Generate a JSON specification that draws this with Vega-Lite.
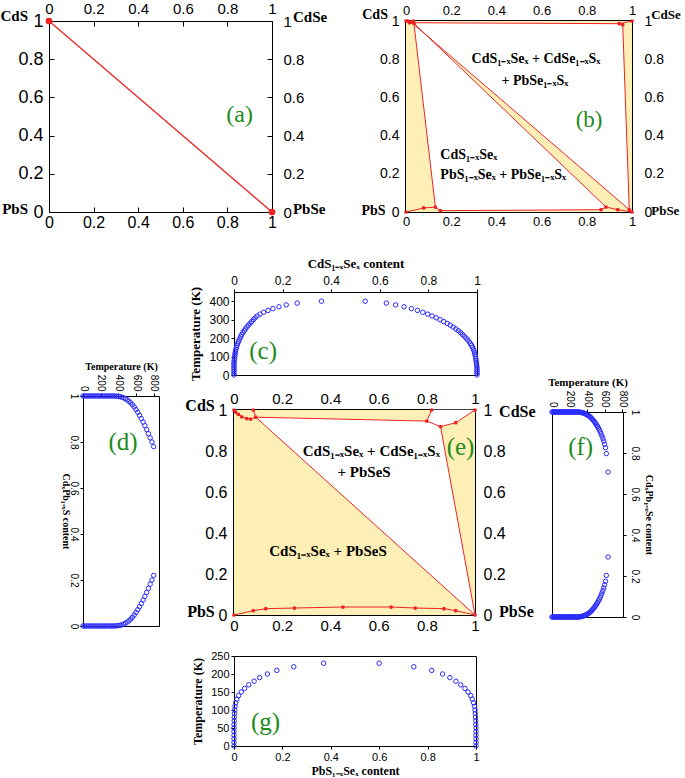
{
"$schema":"https://vega.github.io/schema/vega-lite/v6.json",
"padding":0,
"background":"white",
"data":{"values":[]},
"spacing":25,
"config":{
 "view":{"stroke":null},
 "axis":{"grid":false,"domain":false,"labelFont":"Liberation Sans","labelColor":"black","tickColor":"black","titleFont":"Liberation Serif","titleFontWeight":"bold","titleColor":"black","labelFlush":false,"labelOverlap":false,"labelBound":false}
},
"datasets":{
 "cdat":[{"T":0,"x":0},{"T":10,"x":0},{"T":20,"x":0},{"T":30,"x":0},{"T":40,"x":0},{"T":50,"x":0},{"T":60,"x":0},{"T":70,"x":0},{"T":80,"x":0.001},{"T":90,"x":0.002},{"T":100,"x":0.003},{"T":110,"x":0.004},{"T":120,"x":0.005},{"T":130,"x":0.006},{"T":140,"x":0.008},{"T":150,"x":0.01},{"T":160,"x":0.012},{"T":170,"x":0.015},{"T":180,"x":0.018},{"T":190,"x":0.021},{"T":200,"x":0.025},{"T":210,"x":0.028},{"T":220,"x":0.032},{"T":230,"x":0.037},{"T":240,"x":0.042},{"T":250,"x":0.047},{"T":260,"x":0.053},{"T":270,"x":0.059},{"T":280,"x":0.066},{"T":290,"x":0.073},{"T":300,"x":0.08},{"T":310,"x":0.087},{"T":320,"x":0.095},{"T":330,"x":0.107},{"T":340,"x":0.122},{"T":350,"x":0.14},{"T":360,"x":0.16},{"T":370,"x":0.185},{"T":380,"x":0.215},{"T":390,"x":0.26},{"T":400,"x":0.36},
  {"T":0,"x":1},{"T":10,"x":1},{"T":20,"x":1},{"T":30,"x":1},{"T":40,"x":1},{"T":50,"x":0.999},{"T":60,"x":0.998},{"T":70,"x":0.997},{"T":80,"x":0.996},{"T":90,"x":0.995},{"T":100,"x":0.994},{"T":110,"x":0.992},{"T":120,"x":0.99},{"T":130,"x":0.988},{"T":140,"x":0.985},{"T":150,"x":0.982},{"T":160,"x":0.978},{"T":170,"x":0.973},{"T":180,"x":0.968},{"T":190,"x":0.962},{"T":200,"x":0.955},{"T":210,"x":0.948},{"T":220,"x":0.94},{"T":230,"x":0.932},{"T":240,"x":0.923},{"T":250,"x":0.913},{"T":260,"x":0.902},{"T":270,"x":0.89},{"T":280,"x":0.877},{"T":290,"x":0.863},{"T":300,"x":0.848},{"T":310,"x":0.832},{"T":320,"x":0.815},{"T":330,"x":0.797},{"T":340,"x":0.777},{"T":350,"x":0.755},{"T":360,"x":0.73},{"T":370,"x":0.7},{"T":380,"x":0.665},{"T":390,"x":0.627},{"T":400,"x":0.54}],
 "gdat":[{"T":0,"x":0},{"T":10,"x":0},{"T":20,"x":0},{"T":30,"x":0},{"T":40,"x":0},{"T":50,"x":0},{"T":60,"x":0},{"T":70,"x":0.001},{"T":80,"x":0.001},{"T":90,"x":0.002},{"T":100,"x":0.003},{"T":110,"x":0.004},{"T":120,"x":0.007},{"T":130,"x":0.012},{"T":140,"x":0.019},{"T":150,"x":0.03},{"T":160,"x":0.044},{"T":170,"x":0.061},{"T":180,"x":0.083},{"T":190,"x":0.106},{"T":200,"x":0.138},{"T":210,"x":0.177},{"T":220,"x":0.247},{"T":230,"x":0.37},
  {"T":0,"x":1},{"T":10,"x":1},{"T":20,"x":1},{"T":30,"x":1},{"T":40,"x":1},{"T":50,"x":1},{"T":60,"x":0.999},{"T":70,"x":0.999},{"T":80,"x":0.998},{"T":90,"x":0.997},{"T":100,"x":0.996},{"T":110,"x":0.994},{"T":120,"x":0.99},{"T":130,"x":0.985},{"T":140,"x":0.978},{"T":150,"x":0.967},{"T":160,"x":0.954},{"T":170,"x":0.937},{"T":180,"x":0.917},{"T":190,"x":0.892},{"T":200,"x":0.862},{"T":210,"x":0.817},{"T":220,"x":0.743},{"T":230,"x":0.6}],
 "ddat":[{"T":0,"c":1},{"T":20,"c":1},{"T":40,"c":1},{"T":60,"c":1},{"T":80,"c":1},{"T":100,"c":1},{"T":120,"c":1},{"T":140,"c":1},{"T":160,"c":1},{"T":180,"c":1},{"T":200,"c":1},{"T":220,"c":1},{"T":240,"c":1},{"T":260,"c":1},{"T":280,"c":1},{"T":300,"c":1},{"T":320,"c":1},{"T":340,"c":1},{"T":360,"c":1},{"T":380,"c":0.999},{"T":400,"c":0.998},{"T":420,"c":0.997},{"T":440,"c":0.995},{"T":460,"c":0.992},{"T":480,"c":0.988},{"T":500,"c":0.983},{"T":520,"c":0.977},{"T":540,"c":0.97},{"T":560,"c":0.962},{"T":580,"c":0.952},{"T":600,"c":0.941},{"T":620,"c":0.929},{"T":640,"c":0.916},{"T":660,"c":0.902},{"T":680,"c":0.887},{"T":700,"c":0.871},{"T":720,"c":0.854},{"T":740,"c":0.836},{"T":760,"c":0.818},{"T":780,"c":0.8},{"T":800,"c":0.78},
  {"T":0,"c":0},{"T":20,"c":0},{"T":40,"c":0},{"T":60,"c":0},{"T":80,"c":0},{"T":100,"c":0},{"T":120,"c":0},{"T":140,"c":0},{"T":160,"c":0},{"T":180,"c":0},{"T":200,"c":0},{"T":220,"c":0},{"T":240,"c":0},{"T":260,"c":0},{"T":280,"c":0},{"T":300,"c":0},{"T":320,"c":0},{"T":340,"c":0},{"T":360,"c":0},{"T":380,"c":0.001},{"T":400,"c":0.002},{"T":420,"c":0.003},{"T":440,"c":0.005},{"T":460,"c":0.008},{"T":480,"c":0.012},{"T":500,"c":0.017},{"T":520,"c":0.023},{"T":540,"c":0.03},{"T":560,"c":0.038},{"T":580,"c":0.048},{"T":600,"c":0.059},{"T":620,"c":0.071},{"T":640,"c":0.084},{"T":660,"c":0.098},{"T":680,"c":0.113},{"T":700,"c":0.129},{"T":720,"c":0.146},{"T":740,"c":0.164},{"T":760,"c":0.182},{"T":780,"c":0.2},{"T":800,"c":0.22}],
 "fdat":[{"T":0,"c":1},{"T":10,"c":1},{"T":20,"c":1},{"T":30,"c":1},{"T":40,"c":1},{"T":50,"c":1},{"T":60,"c":1},{"T":70,"c":1},{"T":80,"c":1},{"T":90,"c":1},{"T":100,"c":1},{"T":110,"c":1},{"T":120,"c":1},{"T":130,"c":1},{"T":140,"c":1},{"T":150,"c":1},{"T":160,"c":1},{"T":170,"c":1},{"T":180,"c":1},{"T":190,"c":1},{"T":200,"c":1},{"T":210,"c":1},{"T":220,"c":1},{"T":230,"c":1},{"T":240,"c":1},{"T":250,"c":1},{"T":260,"c":1},{"T":270,"c":1},{"T":280,"c":1},{"T":290,"c":1},{"T":300,"c":1},{"T":310,"c":0.999},{"T":320,"c":0.999},{"T":330,"c":0.998},{"T":340,"c":0.997},{"T":350,"c":0.996},{"T":360,"c":0.995},{"T":370,"c":0.993},{"T":380,"c":0.991},{"T":390,"c":0.989},{"T":400,"c":0.987},{"T":410,"c":0.984},{"T":420,"c":0.981},{"T":430,"c":0.978},{"T":440,"c":0.974},{"T":450,"c":0.97},{"T":460,"c":0.965},{"T":470,"c":0.96},{"T":480,"c":0.955},{"T":490,"c":0.949},{"T":500,"c":0.943},{"T":510,"c":0.936},{"T":520,"c":0.929},{"T":530,"c":0.921},{"T":540,"c":0.913},{"T":550,"c":0.904},{"T":560,"c":0.894},{"T":570,"c":0.883},{"T":580,"c":0.871},{"T":590,"c":0.858},{"T":600,"c":0.843},{"T":610,"c":0.826},{"T":620,"c":0.797},{"T":640,"c":0.707},
  {"T":0,"c":0},{"T":10,"c":0},{"T":20,"c":0},{"T":30,"c":0},{"T":40,"c":0},{"T":50,"c":0},{"T":60,"c":0},{"T":70,"c":0},{"T":80,"c":0},{"T":90,"c":0},{"T":100,"c":0},{"T":110,"c":0},{"T":120,"c":0},{"T":130,"c":0},{"T":140,"c":0},{"T":150,"c":0},{"T":160,"c":0},{"T":170,"c":0},{"T":180,"c":0},{"T":190,"c":0},{"T":200,"c":0},{"T":210,"c":0},{"T":220,"c":0},{"T":230,"c":0},{"T":240,"c":0},{"T":250,"c":0},{"T":260,"c":0},{"T":270,"c":0},{"T":280,"c":0},{"T":290,"c":0},{"T":300,"c":0},{"T":310,"c":0.001},{"T":320,"c":0.001},{"T":330,"c":0.002},{"T":340,"c":0.003},{"T":350,"c":0.004},{"T":360,"c":0.005},{"T":370,"c":0.007},{"T":380,"c":0.009},{"T":390,"c":0.011},{"T":400,"c":0.013},{"T":410,"c":0.016},{"T":420,"c":0.019},{"T":430,"c":0.022},{"T":440,"c":0.026},{"T":450,"c":0.03},{"T":460,"c":0.035},{"T":470,"c":0.04},{"T":480,"c":0.045},{"T":490,"c":0.051},{"T":500,"c":0.057},{"T":510,"c":0.064},{"T":520,"c":0.071},{"T":530,"c":0.079},{"T":540,"c":0.087},{"T":550,"c":0.096},{"T":560,"c":0.106},{"T":570,"c":0.117},{"T":580,"c":0.129},{"T":590,"c":0.142},{"T":600,"c":0.157},{"T":610,"c":0.174},{"T":620,"c":0.203},{"T":640,"c":0.293}],
 "bPoly":[{"p":"W1","i":0,"x":0.022,"y":0.993},{"p":"W1","i":1,"x":0.944,"y":0.986},{"p":"W1","i":2,"x":0.959,"y":0.981},{"p":"W1","i":3,"x":0.988,"y":0.012},{"p":"W1","i":4,"x":1,"y":0},{"p":"W1","i":5,"x":0.022,"y":0.993},
  {"p":"W2","i":0,"x":0.035,"y":0.988},{"p":"W2","i":1,"x":0.885,"y":0.026},{"p":"W2","i":2,"x":0.863,"y":0.012},{"p":"W2","i":3,"x":0.152,"y":0.007},{"p":"W2","i":4,"x":0.13,"y":0.026},{"p":"W2","i":5,"x":0.035,"y":0.988}],
 "bLine":[{"l":"L1","i":0,"x":0.015,"y":0.991},{"l":"L1","i":1,"x":0.944,"y":0.986},{"l":"L1","i":2,"x":1,"y":1},
  {"l":"L2","i":0,"x":0.944,"y":0.986},{"l":"L2","i":1,"x":0.959,"y":0.981},{"l":"L2","i":2,"x":0.988,"y":0.012},{"l":"L2","i":3,"x":1,"y":0},
  {"l":"L3","i":0,"x":0.032,"y":1},{"l":"L3","i":1,"x":0.035,"y":0.988},{"l":"L3","i":2,"x":0.13,"y":0.026},
  {"l":"L4","i":0,"x":0,"y":0},{"l":"L4","i":1,"x":0.078,"y":0.021},{"l":"L4","i":2,"x":0.13,"y":0.026},{"l":"L4","i":3,"x":0.152,"y":0.007},{"l":"L4","i":4,"x":0.863,"y":0.012},{"l":"L4","i":5,"x":0.885,"y":0.026},{"l":"L4","i":6,"x":0.937,"y":0.012},{"l":"L4","i":7,"x":1,"y":0},
  {"l":"L5","i":0,"x":0.022,"y":0.995},{"l":"L5","i":1,"x":1,"y":0},
  {"l":"L6","i":0,"x":0.035,"y":0.988},{"l":"L6","i":1,"x":0.885,"y":0.026},
  {"l":"L7","i":0,"x":0,"y":1},{"l":"L7","i":1,"x":0.007,"y":1},{"l":"L7","i":2,"x":0.015,"y":0.991},{"l":"L7","i":3,"x":0.022,"y":0.995},{"l":"L7","i":4,"x":0.032,"y":1}],
 "bPts":[{"x":0,"y":1},{"x":0.007,"y":1},{"x":0.015,"y":0.991},{"x":0.022,"y":0.995},{"x":0.032,"y":1},{"x":0.035,"y":0.988},{"x":0.944,"y":0.986},{"x":0.959,"y":0.981},{"x":1,"y":1},{"x":0.988,"y":0.012},{"x":1,"y":0},{"x":0,"y":0},{"x":0.078,"y":0.021},{"x":0.13,"y":0.026},{"x":0.152,"y":0.007},{"x":0.863,"y":0.012},{"x":0.885,"y":0.026},{"x":0.937,"y":0.012}],
 "ePoly":[{"p":"W1","i":0,"x":0.09,"y":0.965},{"p":"W1","i":1,"x":0.8,"y":0.946},{"p":"W1","i":2,"x":0.857,"y":0.919},{"p":"W1","i":3,"x":1,"y":0},{"p":"W1","i":4,"x":0.09,"y":0.965},
  {"p":"W2","i":0,"x":0.82,"y":1},{"p":"W2","i":1,"x":1,"y":1},{"p":"W2","i":2,"x":0.92,"y":0.938},{"p":"W2","i":3,"x":0.857,"y":0.919},{"p":"W2","i":4,"x":0.8,"y":0.946},{"p":"W2","i":5,"x":0.82,"y":1}],
 "eLine":[{"l":"E1","i":0,"x":0,"y":1},{"l":"E1","i":1,"x":0.007,"y":0.99},{"l":"E1","i":2,"x":0.018,"y":0.979},{"l":"E1","i":3,"x":0.032,"y":0.967},{"l":"E1","i":4,"x":0.053,"y":0.958},{"l":"E1","i":5,"x":0.069,"y":0.956},{"l":"E1","i":6,"x":0.09,"y":0.965},
  {"l":"E2","i":0,"x":0.08,"y":1},{"l":"E2","i":1,"x":0.09,"y":0.965},
  {"l":"E3","i":0,"x":0.09,"y":0.965},{"l":"E3","i":1,"x":0.8,"y":0.946},{"l":"E3","i":2,"x":0.82,"y":1},
  {"l":"E4","i":0,"x":0.8,"y":0.946},{"l":"E4","i":1,"x":0.857,"y":0.919},{"l":"E4","i":2,"x":0.92,"y":0.938},{"l":"E4","i":3,"x":1,"y":1},
  {"l":"E5","i":0,"x":0.857,"y":0.919},{"l":"E5","i":1,"x":1,"y":0},
  {"l":"E6","i":0,"x":0.09,"y":0.965},{"l":"E6","i":1,"x":1,"y":0},
  {"l":"E7","i":0,"x":0,"y":0},{"l":"E7","i":1,"x":0.08,"y":0.021},{"l":"E7","i":2,"x":0.132,"y":0.031},{"l":"E7","i":3,"x":0.251,"y":0.034},{"l":"E7","i":4,"x":0.452,"y":0.039},{"l":"E7","i":5,"x":0.652,"y":0.039},{"l":"E7","i":6,"x":0.752,"y":0.034},{"l":"E7","i":7,"x":0.871,"y":0.031},{"l":"E7","i":8,"x":0.92,"y":0.021},{"l":"E7","i":9,"x":1,"y":0}],
 "ePts":[{"x":0,"y":1},{"x":0.007,"y":0.99},{"x":0.018,"y":0.979},{"x":0.032,"y":0.967},{"x":0.053,"y":0.958},{"x":0.069,"y":0.956},{"x":0.09,"y":0.965},{"x":0.08,"y":1},{"x":0.8,"y":0.946},{"x":0.82,"y":1},{"x":0.857,"y":0.919},{"x":0.92,"y":0.938},{"x":1,"y":1},{"x":1,"y":0},{"x":0,"y":0},{"x":0.08,"y":0.021},{"x":0.132,"y":0.031},{"x":0.251,"y":0.034},{"x":0.452,"y":0.039},{"x":0.652,"y":0.039},{"x":0.752,"y":0.034},{"x":0.871,"y":0.031},{"x":0.92,"y":0.021}]
},
"vconcat":[
 {"bounds":"flush","spacing":0,"hconcat":[
  {"width":46,"height":1,"mark":"point"},
  {"width":223,"height":191,"view":{"stroke":"black","strokeWidth":1},
   "layer":[
    {"data":{"values":[{"x":0,"y":1},{"x":1,"y":0}]},"mark":{"type":"line","color":"#ee2222","strokeWidth":1.3},
     "encoding":{"x":{"field":"x","type":"quantitative","scale":{"domain":[0,1],"nice":false},"axis":{"orient":"bottom","values":[0,0.2,0.4,0.6,0.8,1],"format":"~g","labelFontSize":16,"tickSize":-5,"labelPadding":7,"title":null}},
      "y":{"field":"y","type":"quantitative","scale":{"domain":[0,1],"nice":false},"axis":{"orient":"left","values":[0,0.2,0.4,0.6,0.8,1],"format":"~g","labelFontSize":18,"tickSize":-5,"labelPadding":11,"title":null}}}},
    {"data":{"values":[{"x":0,"y":1},{"x":1,"y":0}]},"mark":{"type":"point","filled":true,"color":"#ee2222","size":45,"opacity":1},
     "encoding":{"x":{"field":"x","type":"quantitative","scale":{"domain":[0,1],"nice":false},"axis":{"orient":"top","values":[0,0.2,0.4,0.6,0.8,1],"format":"~g","labelFontSize":15,"tickSize":-5,"labelPadding":10,"title":null}},
      "y":{"field":"y","type":"quantitative","scale":{"domain":[0,1],"nice":false},"axis":{"orient":"right","values":[0,0.2,0.4,0.6,0.8,1],"format":"~g","labelFontSize":15,"tickSize":-5,"labelPadding":16,"title":null}}}},
    {"data":{"values":[{"t":"CdS","x":-0.094,"y":1.026},{"t":"PbS","x":-0.094,"y":0.016}]},"mark":{"type":"text","align":"right","baseline":"middle","font":"Liberation Serif","fontWeight":"bold","fontSize":15},
     "encoding":{"x":{"field":"x","type":"quantitative","scale":{"domain":[0,1],"nice":false},"axis":null},"y":{"field":"y","type":"quantitative","scale":{"domain":[0,1],"nice":false},"axis":null},"text":{"field":"t"}}},
    {"data":{"values":[{"t":"CdSe","x":1.094,"y":1.02},{"t":"PbSe","x":1.094,"y":0.016}]},"mark":{"type":"text","align":"left","baseline":"middle","font":"Liberation Serif","fontWeight":"bold","fontSize":15},
     "encoding":{"x":{"field":"x","type":"quantitative","scale":{"domain":[0,1],"nice":false},"axis":null},"y":{"field":"y","type":"quantitative","scale":{"domain":[0,1],"nice":false},"axis":null},"text":{"field":"t"}}},
    {"data":{"values":[{"t":"(a)","x":0.855,"y":0.51}]},"mark":{"type":"text","align":"center","baseline":"middle","font":"Liberation Serif","fontSize":24,"color":"#1d8c1d"},
     "encoding":{"x":{"field":"x","type":"quantitative","scale":{"domain":[0,1],"nice":false},"axis":null},"y":{"field":"y","type":"quantitative","scale":{"domain":[0,1],"nice":false},"axis":null},"text":{"field":"t"}}}
   ],
   "resolve":{"axis":{"x":"independent","y":"independent"}}},
  {"width":134,"height":1,"mark":"point"},
  {"width":226,"height":191,"view":{"stroke":"black","strokeWidth":2},
   "layer":[
    {"data":{"values":[{"x":0,"x2":1,"y":0,"y2":1}]},"mark":{"type":"rect","color":"#fdefb5"},
     "encoding":{"x":{"field":"x","type":"quantitative","scale":{"domain":[0,1],"nice":false},"axis":{"orient":"bottom","values":[0,0.2,0.4,0.6,0.8,1],"format":"~g","labelFontSize":13,"tickSize":-5,"labelPadding":8,"title":null}},"x2":{"field":"x2"},
      "y":{"field":"y","type":"quantitative","scale":{"domain":[0,1],"nice":false},"axis":{"orient":"left","values":[0,0.2,0.4,0.6,0.8,1],"format":"~g","labelFontSize":14,"tickSize":-5,"labelPadding":12,"title":null}},"y2":{"field":"y2"}}},
    {"data":{"name":"bPoly"},"mark":{"type":"line","color":"white","fill":"white","strokeWidth":0.5},
     "encoding":{"x":{"field":"x","type":"quantitative","scale":{"domain":[0,1],"nice":false},"axis":{"orient":"top","values":[0,0.2,0.4,0.6,0.8,1],"format":"~g","labelFontSize":13,"tickSize":-5,"labelPadding":9,"title":null}},
      "y":{"field":"y","type":"quantitative","scale":{"domain":[0,1],"nice":false},"axis":{"orient":"right","values":[0,0.2,0.4,0.6,0.8,1],"format":"~g","labelFontSize":14,"tickSize":-5,"labelPadding":17,"title":null}},"detail":{"field":"p"},"order":{"field":"i"}}},
    {"data":{"name":"bLine"},"mark":{"type":"line","color":"#ee2222","strokeWidth":1},
     "encoding":{"x":{"field":"x","type":"quantitative","scale":{"domain":[0,1],"nice":false},"axis":null},"y":{"field":"y","type":"quantitative","scale":{"domain":[0,1],"nice":false},"axis":null},"detail":{"field":"l"},"order":{"field":"i"}}},
    {"data":{"name":"bPts"},"mark":{"type":"point","filled":true,"color":"#ee2222","size":14,"opacity":1},
     "encoding":{"x":{"field":"x","type":"quantitative","scale":{"domain":[0,1],"nice":false},"axis":null},"y":{"field":"y","type":"quantitative","scale":{"domain":[0,1],"nice":false},"axis":null}}},
    {"data":{"values":[{"t":"CdS","x":-0.08,"y":1.03},{"t":"PbS","x":-0.09,"y":0.005}]},"mark":{"type":"text","align":"right","baseline":"middle","font":"Liberation Serif","fontWeight":"bold","fontSize":14},
     "encoding":{"x":{"field":"x","type":"quantitative","scale":{"domain":[0,1],"nice":false},"axis":null},"y":{"field":"y","type":"quantitative","scale":{"domain":[0,1],"nice":false},"axis":null},"text":{"field":"t"}}},
    {"data":{"values":[{"t":"CdSe","x":1.085,"y":1.03},{"t":"PbSe","x":1.085,"y":0.005}]},"mark":{"type":"text","align":"left","baseline":"middle","font":"Liberation Serif","fontWeight":"bold","fontSize":13},
     "encoding":{"x":{"field":"x","type":"quantitative","scale":{"domain":[0,1],"nice":false},"axis":null},"y":{"field":"y","type":"quantitative","scale":{"domain":[0,1],"nice":false},"axis":null},"text":{"field":"t"}}},
    {"data":{"values":[{"t":"CdS₁₋ₓSeₓ + CdSe₁₋ₓSₓ","x":0.575,"y":0.8},{"t":"+ PbSe₁₋ₓSₓ","x":0.57,"y":0.687}]},"mark":{"type":"text","align":"center","baseline":"middle","font":"Liberation Serif","fontWeight":"bold","fontSize":14},
     "encoding":{"x":{"field":"x","type":"quantitative","scale":{"domain":[0,1],"nice":false},"axis":null},"y":{"field":"y","type":"quantitative","scale":{"domain":[0,1],"nice":false},"axis":null},"text":{"field":"t"}}},
    {"data":{"values":[{"t":"CdS₁₋ₓSeₓ","x":0.152,"y":0.3},{"t":"PbS₁₋ₓSeₓ + PbSe₁₋ₓSₓ","x":0.152,"y":0.195}]},"mark":{"type":"text","align":"left","baseline":"middle","font":"Liberation Serif","fontWeight":"bold","fontSize":14},
     "encoding":{"x":{"field":"x","type":"quantitative","scale":{"domain":[0,1],"nice":false},"axis":null},"y":{"field":"y","type":"quantitative","scale":{"domain":[0,1],"nice":false},"axis":null},"text":{"field":"t"}}},
    {"data":{"values":[{"t":"(b)","x":0.81,"y":0.48}]},"mark":{"type":"text","align":"center","baseline":"middle","font":"Liberation Serif","fontSize":23,"color":"#1d8c1d"},
     "encoding":{"x":{"field":"x","type":"quantitative","scale":{"domain":[0,1],"nice":false},"axis":null},"y":{"field":"y","type":"quantitative","scale":{"domain":[0,1],"nice":false},"axis":null},"text":{"field":"t"}}}
   ],
   "resolve":{"axis":{"x":"independent","y":"independent"}}}
 ]},
 {"spacing":0,"hconcat":[
  {"width":56,"height":1,"mark":"point"},
  {"bounds":"flush","spacing":0,"vconcat":[
   {"width":1,"height":104,"mark":"point"},
   {"width":76,"height":230,"view":{"stroke":"black","strokeWidth":1},
    "layer":[
     {"data":{"name":"ddat"},"mark":{"type":"point","shape":"circle","filled":false,"color":"#2b2bff","size":20,"strokeWidth":1,"opacity":1},
      "encoding":{"x":{"field":"T","type":"quantitative","scale":{"domain":[0,860],"nice":false},"axis":{"orient":"top","values":[0,200,400,600,800],"labelAngle":90,"labelFontSize":10,"tickSize":3,"labelPadding":2,"title":"Temperature (K)","titleFontSize":10,"titlePadding":3}},
       "y":{"field":"c","type":"quantitative","scale":{"domain":[0,1],"nice":false},"axis":{"orient":"left","values":[0,0.2,0.4,0.6,0.8,1],"format":"~g","labelAngle":90,"labelFontSize":10,"tickSize":3,"labelPadding":2,"title":"CdₓPb₁₋ₓS content","titleAngle":90,"titleFontSize":10,"titlePadding":8}}}},
     {"data":{"values":[{"t":"(d)","T":453,"c":0.8}]},"mark":{"type":"text","align":"center","baseline":"middle","font":"Liberation Serif","fontSize":25,"color":"#1d8c1d"},
      "encoding":{"x":{"field":"T","type":"quantitative","scale":{"domain":[0,860],"nice":false},"axis":null},"y":{"field":"c","type":"quantitative","scale":{"domain":[0,1],"nice":false},"axis":null},"text":{"field":"t"}}}
    ],
    "resolve":{"axis":{"x":"independent","y":"independent"}}}
  ]},
  {"width":24,"height":1,"mark":"point"},
  {"bounds":"flush","spacing":0,"vconcat":[
   {"width":243,"height":83,"view":{"stroke":"black","strokeWidth":1},
    "layer":[
     {"data":{"name":"cdat"},"mark":{"type":"point","shape":"circle","filled":false,"color":"#2b2bff","size":20,"strokeWidth":1,"opacity":1},
      "encoding":{"x":{"field":"x","type":"quantitative","scale":{"domain":[0,1],"nice":false},"axis":{"orient":"top","values":[0,0.2,0.4,0.6,0.8,1],"format":"~g","labelFontSize":12,"tickSize":3,"labelPadding":2,"title":"CdS₁₋ₓSeₓ content","titleFontSize":13,"titlePadding":4}},
       "y":{"field":"T","type":"quantitative","scale":{"domain":[0,450],"nice":false},"axis":{"orient":"left","values":[0,100,200,300,400],"labelFontSize":12,"tickSize":3,"labelPadding":2,"title":"Temperature (K)","titleFontSize":13,"titlePadding":6}}}},
     {"data":{"values":[{"t":"(c)","x":0.12,"T":130}]},"mark":{"type":"text","align":"center","baseline":"middle","font":"Liberation Serif","fontSize":25,"color":"#1d8c1d"},
      "encoding":{"x":{"field":"x","type":"quantitative","scale":{"domain":[0,1],"nice":false},"axis":null},"y":{"field":"T","type":"quantitative","scale":{"domain":[0,450],"nice":false},"axis":null},"text":{"field":"t"}}}
    ],
    "resolve":{"axis":{"x":"independent","y":"independent"}}},
   {"width":1,"height":35,"mark":"point"},
   {"width":241,"height":205,"view":{"stroke":"black","strokeWidth":2},
    "layer":[
     {"data":{"values":[{"x":0,"x2":1,"y":0,"y2":1}]},"mark":{"type":"rect","color":"#fdefb5"},
      "encoding":{"x":{"field":"x","type":"quantitative","scale":{"domain":[0,1],"nice":false},"axis":{"orient":"bottom","values":[0,0.2,0.4,0.6,0.8,1],"format":"~g","labelFontSize":15,"tickSize":-5,"labelPadding":8,"title":null}},"x2":{"field":"x2"},
       "y":{"field":"y","type":"quantitative","scale":{"domain":[0,1],"nice":false},"axis":{"orient":"left","values":[0,0.2,0.4,0.6,0.8,1],"format":"~g","labelFontSize":16,"tickSize":-5,"labelPadding":12,"title":null}},"y2":{"field":"y2"}}},
     {"data":{"name":"ePoly"},"mark":{"type":"line","color":"white","fill":"white","strokeWidth":0.5},
      "encoding":{"x":{"field":"x","type":"quantitative","scale":{"domain":[0,1],"nice":false},"axis":{"orient":"top","values":[0,0.2,0.4,0.6,0.8,1],"format":"~g","labelFontSize":15,"tickSize":-5,"labelPadding":9,"title":null}},
       "y":{"field":"y","type":"quantitative","scale":{"domain":[0,1],"nice":false},"axis":{"orient":"right","values":[0,0.2,0.4,0.6,0.8,1],"format":"~g","labelFontSize":16,"tickSize":-5,"labelPadding":13,"title":null}},"detail":{"field":"p"},"order":{"field":"i"}}},
     {"data":{"name":"eLine"},"mark":{"type":"line","color":"#ee2222","strokeWidth":1},
      "encoding":{"x":{"field":"x","type":"quantitative","scale":{"domain":[0,1],"nice":false},"axis":null},"y":{"field":"y","type":"quantitative","scale":{"domain":[0,1],"nice":false},"axis":null},"detail":{"field":"l"},"order":{"field":"i"}}},
     {"data":{"name":"ePts"},"mark":{"type":"point","filled":true,"color":"#ee2222","size":14,"opacity":1},
      "encoding":{"x":{"field":"x","type":"quantitative","scale":{"domain":[0,1],"nice":false},"axis":null},"y":{"field":"y","type":"quantitative","scale":{"domain":[0,1],"nice":false},"axis":null}}},
     {"data":{"values":[{"t":"CdS","x":-0.08,"y":1.02},{"t":"PbS","x":-0.08,"y":0.015}]},"mark":{"type":"text","align":"right","baseline":"middle","font":"Liberation Serif","fontWeight":"bold","fontSize":16},
      "encoding":{"x":{"field":"x","type":"quantitative","scale":{"domain":[0,1],"nice":false},"axis":null},"y":{"field":"y","type":"quantitative","scale":{"domain":[0,1],"nice":false},"axis":null},"text":{"field":"t"}}},
     {"data":{"values":[{"t":"CdSe","x":1.1,"y":0.99},{"t":"PbSe","x":1.1,"y":0.015}]},"mark":{"type":"text","align":"left","baseline":"middle","font":"Liberation Serif","fontWeight":"bold","fontSize":16},
      "encoding":{"x":{"field":"x","type":"quantitative","scale":{"domain":[0,1],"nice":false},"axis":null},"y":{"field":"y","type":"quantitative","scale":{"domain":[0,1],"nice":false},"axis":null},"text":{"field":"t"}}},
     {"data":{"values":[{"t":"CdS₁₋ₓSeₓ + CdSe₁₋ₓSₓ","x":0.57,"y":0.8},{"t":"+ PbSeS","x":0.54,"y":0.7},{"t":"CdS₁₋ₓSeₓ + PbSeS","x":0.39,"y":0.31}]},"mark":{"type":"text","align":"center","baseline":"middle","font":"Liberation Serif","fontWeight":"bold","fontSize":15},
      "encoding":{"x":{"field":"x","type":"quantitative","scale":{"domain":[0,1],"nice":false},"axis":null},"y":{"field":"y","type":"quantitative","scale":{"domain":[0,1],"nice":false},"axis":null},"text":{"field":"t"}}},
     {"data":{"values":[{"t":"(e)","x":0.94,"y":0.82}]},"mark":{"type":"text","align":"center","baseline":"middle","font":"Liberation Serif","fontSize":25,"color":"#1d8c1d"},
      "encoding":{"x":{"field":"x","type":"quantitative","scale":{"domain":[0,1],"nice":false},"axis":null},"y":{"field":"y","type":"quantitative","scale":{"domain":[0,1],"nice":false},"axis":null},"text":{"field":"t"}}}
    ],
    "resolve":{"axis":{"x":"independent","y":"independent"}}},
   {"width":1,"height":41,"mark":"point"},
   {"width":242,"height":90,"view":{"stroke":"black","strokeWidth":1},
    "layer":[
     {"data":{"name":"gdat"},"mark":{"type":"point","shape":"circle","filled":false,"color":"#2b2bff","size":20,"strokeWidth":1,"opacity":1},
      "encoding":{"x":{"field":"x","type":"quantitative","scale":{"domain":[0,1],"nice":false},"axis":{"orient":"bottom","values":[0,0.2,0.4,0.6,0.8,1],"format":"~g","labelFontSize":11,"tickSize":3,"labelPadding":2,"title":"PbS₁₋ₓSeₓ content","titleFontSize":12,"titlePadding":3}},
       "y":{"field":"T","type":"quantitative","scale":{"domain":[0,250],"nice":false},"axis":{"orient":"left","values":[0,50,100,150,200,250],"labelFontSize":11,"tickSize":3,"labelPadding":2,"title":"Temperature (K)","titleFontSize":12,"titlePadding":6}}}},
     {"data":{"values":[{"t":"(g)","x":0.13,"T":67}]},"mark":{"type":"text","align":"center","baseline":"middle","font":"Liberation Serif","fontSize":25,"color":"#1d8c1d"},
      "encoding":{"x":{"field":"x","type":"quantitative","scale":{"domain":[0,1],"nice":false},"axis":null},"y":{"field":"T","type":"quantitative","scale":{"domain":[0,250],"nice":false},"axis":null},"text":{"field":"t"}}}
    ],
    "resolve":{"axis":{"x":"independent","y":"independent"}}}
  ]},
  {"width":9,"height":1,"mark":"point"},
  {"bounds":"flush","spacing":0,"vconcat":[
   {"width":1,"height":120,"mark":"point"},
   {"width":71,"height":205,"view":{"stroke":"black","strokeWidth":1},
    "layer":[
     {"data":{"name":"fdat"},"mark":{"type":"point","shape":"circle","filled":false,"color":"#2b2bff","size":20,"strokeWidth":1,"opacity":1},
      "encoding":{"x":{"field":"T","type":"quantitative","scale":{"domain":[0,810],"nice":false},"axis":{"orient":"top","values":[0,200,400,600,800],"labelAngle":90,"labelFontSize":10,"tickSize":3,"labelPadding":2,"title":"Temperature (K)","titleFontSize":11,"titlePadding":3}},
       "y":{"field":"c","type":"quantitative","scale":{"domain":[0,1],"nice":false},"axis":{"orient":"right","values":[0,0.2,0.4,0.6,0.8,1],"format":"~g","labelAngle":90,"labelFontSize":10,"tickSize":3,"labelPadding":3,"title":"CdₓPb₁₋ₓSe content","titleAngle":90,"titleFontSize":10,"titlePadding":4}}}},
     {"data":{"values":[{"t":"(f)","T":327,"c":0.83}]},"mark":{"type":"text","align":"center","baseline":"middle","font":"Liberation Serif","fontSize":25,"color":"#1d8c1d"},
      "encoding":{"x":{"field":"T","type":"quantitative","scale":{"domain":[0,810],"nice":false},"axis":null},"y":{"field":"c","type":"quantitative","scale":{"domain":[0,1],"nice":false},"axis":null},"text":{"field":"t"}}}
    ],
    "resolve":{"axis":{"x":"independent","y":"independent"}}}
  ]}
 ]}
]
}
